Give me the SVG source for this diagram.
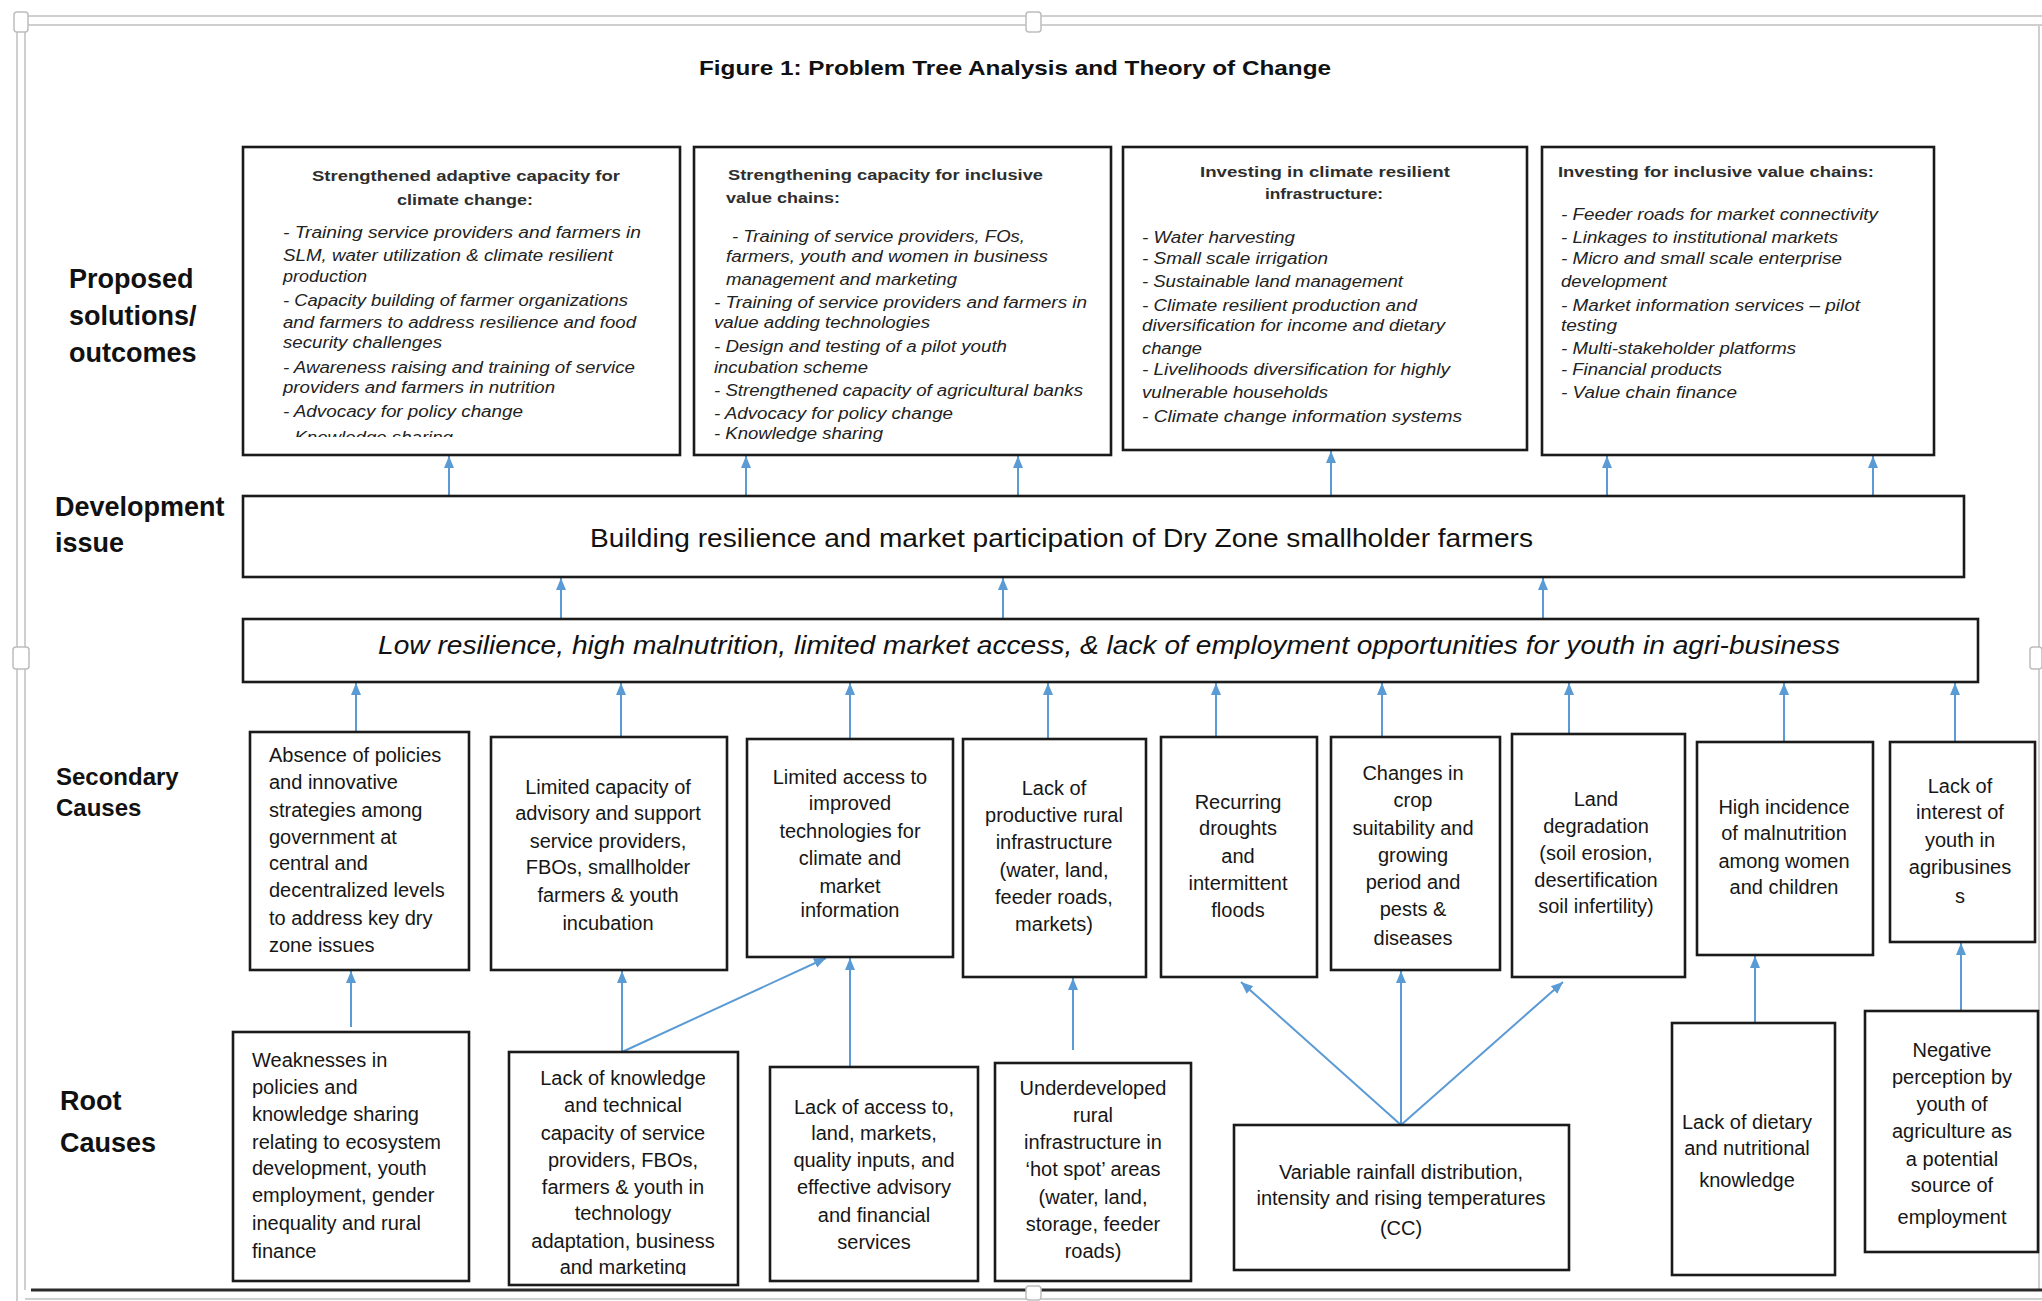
<svg xmlns="http://www.w3.org/2000/svg" width="2042" height="1301" viewBox="0 0 2042 1301">
  <style>
    .bg { fill: #ffffff; }
    .frame { fill: none; stroke: #cfcfcf; stroke-width: 2; }
    .handle { fill: #ffffff; stroke: #bdbdbd; stroke-width: 1.5; }
    .box { fill: #ffffff; stroke: #1a1a1a; stroke-width: 2.6; }
    .lbl { font-family: "Liberation Sans", Arial, sans-serif; font-weight: bold; font-size: 27px; fill: #111111; }
    .title { font-family: "Liberation Sans", Arial, sans-serif; font-weight: bold; font-size: 21px; fill: #111111; }
    .th { font-family: "Liberation Sans", Arial, sans-serif; font-weight: bold; font-size: 15px; fill: #2e2e2e; }
    .ti { font-family: "Liberation Sans", Arial, sans-serif; font-style: italic; font-size: 16px; fill: #222222; }
    .t { font-family: "Liberation Sans", Arial, sans-serif; font-size: 20px; fill: #161616; }
    .c { text-anchor: middle; }
    .big { font-family: "Liberation Sans", Arial, sans-serif; font-size: 25px; fill: #111111; }
    .conn { fill: none; stroke: #5b9bd5; stroke-width: 2; marker-end: url(#arr); }
  </style>
  <defs>
    <marker id="arr" viewBox="0 0 12 12" refX="12" refY="6" markerWidth="12" markerHeight="12" markerUnits="userSpaceOnUse" orient="auto">
      <path d="M0,1 L12,6 L0,11 z" fill="#5b9bd5"/>
    </marker>
    <clipPath id="clipP1"><rect x="244" y="148" width="435" height="289"/></clipPath>
    <clipPath id="clipR2"><rect x="510" y="1053" width="227" height="222"/></clipPath>
  </defs>

  <rect class="bg" x="0" y="0" width="2042" height="1301"/>

  <!-- drawing canvas border -->
  <g id="canvas-frame">
    <line class="frame" x1="24" y1="16" x2="2042" y2="16"/>
    <line class="frame" x1="24" y1="25" x2="2042" y2="25"/>
    <line class="frame" x1="17" y1="24" x2="17" y2="1301"/>
    <line class="frame" x1="25" y1="26" x2="25" y2="1290"/>
    <line class="frame" x1="2039" y1="26" x2="2039" y2="1290"/>
    <line x1="31" y1="1290" x2="2042" y2="1290" stroke="#2b2b2b" stroke-width="3"/>
    <line class="frame" x1="25" y1="1299" x2="2042" y2="1299"/>
    <rect class="handle" x="14" y="12" width="14" height="20" rx="3"/>
    <rect class="handle" x="1026" y="12" width="15" height="20" rx="3"/>
    <rect class="handle" x="13" y="647" width="16" height="22" rx="3"/>
    <rect class="handle" x="2030" y="647" width="12" height="22" rx="3"/>
    <rect class="handle" x="1026" y="1286" width="15" height="14" rx="3"/>
  </g>

  <text id="figure-title" class="title c" x="1015" y="75" textLength="632" lengthAdjust="spacingAndGlyphs">Figure 1: Problem Tree Analysis and Theory of Change</text>

  <!-- row labels -->
  <g id="row-labels">
    <text class="lbl" x="69" y="288">Proposed</text>
    <text class="lbl" x="69" y="325">solutions/</text>
    <text class="lbl" x="69" y="362">outcomes</text>
    <text class="lbl" x="55" y="516">Development</text>
    <text class="lbl" x="55" y="552">issue</text>
    <text class="lbl" x="56" y="785" style="font-size:24px">Secondary</text>
    <text class="lbl" x="56" y="816" style="font-size:24px">Causes</text>
    <text class="lbl" x="60" y="1110">Root</text>
    <text class="lbl" x="60" y="1152">Causes</text>
  </g>

  <!-- connectors -->
  <g id="connectors">
    <line class="conn" x1="449" y1="496" x2="449" y2="456"/>
    <line class="conn" x1="746" y1="496" x2="746" y2="456"/>
    <line class="conn" x1="1018" y1="496" x2="1018" y2="456"/>
    <line class="conn" x1="1331" y1="496" x2="1331" y2="451"/>
    <line class="conn" x1="1607" y1="496" x2="1607" y2="456"/>
    <line class="conn" x1="1873" y1="496" x2="1873" y2="456"/>

    <line class="conn" x1="561" y1="619" x2="561" y2="578"/>
    <line class="conn" x1="1003" y1="619" x2="1003" y2="578"/>
    <line class="conn" x1="1543" y1="619" x2="1543" y2="578"/>

    <line class="conn" x1="356" y1="732" x2="356" y2="683"/>
    <line class="conn" x1="621" y1="737" x2="621" y2="683"/>
    <line class="conn" x1="850" y1="739" x2="850" y2="683"/>
    <line class="conn" x1="1048" y1="742" x2="1048" y2="683"/>
    <line class="conn" x1="1216" y1="737" x2="1216" y2="683"/>
    <line class="conn" x1="1382" y1="737" x2="1382" y2="683"/>
    <line class="conn" x1="1569" y1="734" x2="1569" y2="683"/>
    <line class="conn" x1="1784" y1="742" x2="1784" y2="683"/>
    <line class="conn" x1="1955" y1="746" x2="1955" y2="683"/>

    <line class="conn" x1="351" y1="1027" x2="351" y2="971"/>
    <line class="conn" x1="622" y1="1052" x2="622" y2="971"/>
    <line class="conn" x1="622" y1="1052" x2="826" y2="958"/>
    <line class="conn" x1="850" y1="1067" x2="850" y2="958"/>
    <line class="conn" x1="1073" y1="1050" x2="1073" y2="978"/>
    <line class="conn" x1="1401" y1="1125" x2="1241" y2="982"/>
    <line class="conn" x1="1401" y1="1125" x2="1401" y2="971"/>
    <line class="conn" x1="1401" y1="1125" x2="1563" y2="982"/>
    <line class="conn" x1="1755" y1="1023" x2="1755" y2="956"/>
    <line class="conn" x1="1961" y1="1011" x2="1961" y2="943"/>
  </g>

  <!-- proposed solutions / outcomes -->
  <g id="outcome-adaptive-capacity">
    <rect class="box" x="243" y="147" width="437" height="308"/>
    <text class="th" x="312" y="181" textLength="308" lengthAdjust="spacingAndGlyphs">Strengthened adaptive capacity for</text>
    <text class="th" x="397" y="205" textLength="136" lengthAdjust="spacingAndGlyphs">climate change:</text>
    <g clip-path="url(#clipP1)">
      <text class="ti" x="283" y="238" textLength="358" lengthAdjust="spacingAndGlyphs">- Training service providers and farmers in</text>
      <text class="ti" x="283" y="261" textLength="330" lengthAdjust="spacingAndGlyphs">SLM, water utilization &amp; climate resilient</text>
      <text class="ti" x="283" y="282" textLength="84" lengthAdjust="spacingAndGlyphs">production</text>
      <text class="ti" x="283" y="306" textLength="345" lengthAdjust="spacingAndGlyphs">- Capacity building of farmer organizations</text>
      <text class="ti" x="283" y="328" textLength="353" lengthAdjust="spacingAndGlyphs">and farmers to address resilience and food</text>
      <text class="ti" x="283" y="348" textLength="159" lengthAdjust="spacingAndGlyphs">security challenges</text>
      <text class="ti" x="283" y="373" textLength="352" lengthAdjust="spacingAndGlyphs">- Awareness raising and training of service</text>
      <text class="ti" x="283" y="393" textLength="272" lengthAdjust="spacingAndGlyphs">providers and farmers in nutrition</text>
      <text class="ti" x="283" y="417" textLength="240" lengthAdjust="spacingAndGlyphs">- Advocacy for policy change</text>
      <text class="ti" x="283" y="443" textLength="170" lengthAdjust="spacingAndGlyphs">- Knowledge sharing</text>
    </g>
  </g>

  <g id="outcome-inclusive-value-chains">
    <rect class="box" x="694" y="147" width="417" height="308"/>
    <text class="th" x="728" y="180" textLength="315" lengthAdjust="spacingAndGlyphs">Strengthening capacity for inclusive</text>
    <text class="th" x="726" y="203" textLength="114" lengthAdjust="spacingAndGlyphs">value chains:</text>
    <text class="ti" x="732" y="242" textLength="293" lengthAdjust="spacingAndGlyphs">- Training of service providers, FOs,</text>
    <text class="ti" x="726" y="262" textLength="322" lengthAdjust="spacingAndGlyphs">farmers, youth and women in business</text>
    <text class="ti" x="726" y="285" textLength="231" lengthAdjust="spacingAndGlyphs">management and marketing</text>
    <text class="ti" x="714" y="308" textLength="373" lengthAdjust="spacingAndGlyphs">- Training of service providers and farmers in</text>
    <text class="ti" x="714" y="328" textLength="216" lengthAdjust="spacingAndGlyphs">value adding technologies</text>
    <text class="ti" x="714" y="352" textLength="293" lengthAdjust="spacingAndGlyphs">- Design and testing of a pilot youth</text>
    <text class="ti" x="714" y="373" textLength="154" lengthAdjust="spacingAndGlyphs">incubation scheme</text>
    <text class="ti" x="714" y="396" textLength="369" lengthAdjust="spacingAndGlyphs">- Strengthened capacity of agricultural banks</text>
    <text class="ti" x="714" y="419" textLength="239" lengthAdjust="spacingAndGlyphs">- Advocacy for policy change</text>
    <text class="ti" x="714" y="439" textLength="169" lengthAdjust="spacingAndGlyphs">- Knowledge sharing</text>
  </g>

  <g id="outcome-resilient-infrastructure">
    <rect class="box" x="1123" y="147" width="404" height="303"/>
    <text class="th" x="1200" y="177" textLength="250" lengthAdjust="spacingAndGlyphs">Investing in climate resilient</text>
    <text class="th" x="1265" y="199" textLength="118" lengthAdjust="spacingAndGlyphs">infrastructure:</text>
    <text class="ti" x="1142" y="243" textLength="153" lengthAdjust="spacingAndGlyphs">- Water harvesting</text>
    <text class="ti" x="1142" y="264" textLength="186" lengthAdjust="spacingAndGlyphs">- Small scale irrigation</text>
    <text class="ti" x="1142" y="287" textLength="261" lengthAdjust="spacingAndGlyphs">- Sustainable land management</text>
    <text class="ti" x="1142" y="311" textLength="275" lengthAdjust="spacingAndGlyphs">- Climate resilient production and</text>
    <text class="ti" x="1142" y="331" textLength="303" lengthAdjust="spacingAndGlyphs">diversification for income and dietary</text>
    <text class="ti" x="1142" y="354" textLength="60" lengthAdjust="spacingAndGlyphs">change</text>
    <text class="ti" x="1142" y="375" textLength="308" lengthAdjust="spacingAndGlyphs">- Livelihoods diversification for highly</text>
    <text class="ti" x="1142" y="398" textLength="186" lengthAdjust="spacingAndGlyphs">vulnerable households</text>
    <text class="ti" x="1142" y="422" textLength="320" lengthAdjust="spacingAndGlyphs">- Climate change information systems</text>
  </g>

  <g id="outcome-investing-value-chains">
    <rect class="box" x="1542" y="147" width="392" height="308"/>
    <text class="th" x="1558" y="177" textLength="316" lengthAdjust="spacingAndGlyphs">Investing for inclusive value chains:</text>
    <text class="ti" x="1561" y="220" textLength="317" lengthAdjust="spacingAndGlyphs">- Feeder roads for market connectivity</text>
    <text class="ti" x="1561" y="243" textLength="277" lengthAdjust="spacingAndGlyphs">- Linkages to institutional markets</text>
    <text class="ti" x="1561" y="264" textLength="281" lengthAdjust="spacingAndGlyphs">- Micro and small scale enterprise</text>
    <text class="ti" x="1561" y="287" textLength="106" lengthAdjust="spacingAndGlyphs">development</text>
    <text class="ti" x="1561" y="311" textLength="299" lengthAdjust="spacingAndGlyphs">- Market information services – pilot</text>
    <text class="ti" x="1561" y="331" textLength="56" lengthAdjust="spacingAndGlyphs">testing</text>
    <text class="ti" x="1561" y="354" textLength="235" lengthAdjust="spacingAndGlyphs">- Multi-stakeholder platforms</text>
    <text class="ti" x="1561" y="375" textLength="161" lengthAdjust="spacingAndGlyphs">- Financial products</text>
    <text class="ti" x="1561" y="398" textLength="176" lengthAdjust="spacingAndGlyphs">- Value chain finance</text>
  </g>

  <!-- development issue -->
  <g id="development-issue">
    <rect class="box" x="243" y="496" width="1721" height="81"/>
    <text class="big" x="590" y="547" textLength="943" lengthAdjust="spacingAndGlyphs">Building resilience and market participation of Dry Zone smallholder farmers</text>
  </g>

  <!-- core problem -->
  <g id="core-problem">
    <rect class="box" x="243" y="619" width="1735" height="63"/>
    <text class="big" x="378" y="654" font-style="italic" textLength="1462" lengthAdjust="spacingAndGlyphs">Low resilience, high malnutrition, limited market access, &amp; lack of employment opportunities for youth in agri-business</text>
  </g>

  <!-- secondary causes -->
  <g id="sec-policies">
    <rect class="box" x="250" y="732" width="219" height="238"/>
    <text class="t" x="269" y="762">Absence of policies</text>
    <text class="t" x="269" y="789">and innovative</text>
    <text class="t" x="269" y="817">strategies among</text>
    <text class="t" x="269" y="844">government at</text>
    <text class="t" x="269" y="870">central and</text>
    <text class="t" x="269" y="897">decentralized levels</text>
    <text class="t" x="269" y="925">to address key dry</text>
    <text class="t" x="269" y="952">zone issues</text>
  </g>
  <g id="sec-advisory">
    <rect class="box" x="491" y="737" width="236" height="233"/>
    <text class="t c" x="608" y="794">Limited capacity of</text>
    <text class="t c" x="608" y="820">advisory and support</text>
    <text class="t c" x="608" y="848">service providers,</text>
    <text class="t c" x="608" y="874">FBOs, smallholder</text>
    <text class="t c" x="608" y="902">farmers &amp; youth</text>
    <text class="t c" x="608" y="930">incubation</text>
  </g>
  <g id="sec-technologies">
    <rect class="box" x="747" y="739" width="206" height="218"/>
    <text class="t c" x="850" y="784">Limited access to</text>
    <text class="t c" x="850" y="810">improved</text>
    <text class="t c" x="850" y="838">technologies for</text>
    <text class="t c" x="850" y="865">climate and</text>
    <text class="t c" x="850" y="893">market</text>
    <text class="t c" x="850" y="917">information</text>
  </g>
  <g id="sec-infrastructure">
    <rect class="box" x="963" y="739" width="183" height="238"/>
    <text class="t c" x="1054" y="795">Lack of</text>
    <text class="t c" x="1054" y="822">productive rural</text>
    <text class="t c" x="1054" y="849">infrastructure</text>
    <text class="t c" x="1054" y="877">(water, land,</text>
    <text class="t c" x="1054" y="904">feeder roads,</text>
    <text class="t c" x="1054" y="931">markets)</text>
  </g>
  <g id="sec-droughts">
    <rect class="box" x="1161" y="737" width="156" height="240"/>
    <text class="t c" x="1238" y="809">Recurring</text>
    <text class="t c" x="1238" y="835">droughts</text>
    <text class="t c" x="1238" y="863">and</text>
    <text class="t c" x="1238" y="890">intermittent</text>
    <text class="t c" x="1238" y="917">floods</text>
  </g>
  <g id="sec-crop-suitability">
    <rect class="box" x="1331" y="737" width="169" height="233"/>
    <text class="t c" x="1413" y="780">Changes in</text>
    <text class="t c" x="1413" y="807">crop</text>
    <text class="t c" x="1413" y="835">suitability and</text>
    <text class="t c" x="1413" y="862">growing</text>
    <text class="t c" x="1413" y="889">period and</text>
    <text class="t c" x="1413" y="916">pests &amp;</text>
    <text class="t c" x="1413" y="945">diseases</text>
  </g>
  <g id="sec-land-degradation">
    <rect class="box" x="1512" y="734" width="173" height="243"/>
    <text class="t c" x="1596" y="806">Land</text>
    <text class="t c" x="1596" y="833">degradation</text>
    <text class="t c" x="1596" y="860">(soil erosion,</text>
    <text class="t c" x="1596" y="887">desertification</text>
    <text class="t c" x="1596" y="913">soil infertility)</text>
  </g>
  <g id="sec-malnutrition">
    <rect class="box" x="1697" y="742" width="176" height="213"/>
    <text class="t c" x="1784" y="814">High incidence</text>
    <text class="t c" x="1784" y="840">of malnutrition</text>
    <text class="t c" x="1784" y="868">among women</text>
    <text class="t c" x="1784" y="894">and children</text>
  </g>
  <g id="sec-youth-interest">
    <rect class="box" x="1890" y="742" width="145" height="200"/>
    <text class="t c" x="1960" y="793">Lack of</text>
    <text class="t c" x="1960" y="819">interest of</text>
    <text class="t c" x="1960" y="847">youth in</text>
    <text class="t c" x="1960" y="874">agribusines</text>
    <text class="t c" x="1960" y="903">s</text>
  </g>

  <!-- root causes -->
  <g id="root-policy-weakness">
    <rect class="box" x="233" y="1032" width="236" height="249"/>
    <text class="t" x="252" y="1067">Weaknesses in</text>
    <text class="t" x="252" y="1094">policies and</text>
    <text class="t" x="252" y="1121">knowledge sharing</text>
    <text class="t" x="252" y="1149">relating to ecosystem</text>
    <text class="t" x="252" y="1175">development, youth</text>
    <text class="t" x="252" y="1202">employment, gender</text>
    <text class="t" x="252" y="1230">inequality and rural</text>
    <text class="t" x="252" y="1258">finance</text>
  </g>
  <g id="root-knowledge">
    <rect class="box" x="509" y="1052" width="229" height="233"/>
    <g clip-path="url(#clipR2)">
      <text class="t c" x="623" y="1085">Lack of knowledge</text>
      <text class="t c" x="623" y="1112">and technical</text>
      <text class="t c" x="623" y="1140">capacity of service</text>
      <text class="t c" x="623" y="1167">providers, FBOs,</text>
      <text class="t c" x="623" y="1194">farmers &amp; youth in</text>
      <text class="t c" x="623" y="1220">technology</text>
      <text class="t c" x="623" y="1248">adaptation, business</text>
      <text class="t c" x="623" y="1274">and marketing</text>
    </g>
  </g>
  <g id="root-access">
    <rect class="box" x="770" y="1067" width="208" height="214"/>
    <text class="t c" x="874" y="1114">Lack of access to,</text>
    <text class="t c" x="874" y="1140">land, markets,</text>
    <text class="t c" x="874" y="1167">quality inputs, and</text>
    <text class="t c" x="874" y="1194">effective advisory</text>
    <text class="t c" x="874" y="1222">and financial</text>
    <text class="t c" x="874" y="1249">services</text>
  </g>
  <g id="root-underdeveloped">
    <rect class="box" x="995" y="1063" width="196" height="218"/>
    <text class="t c" x="1093" y="1095">Underdeveloped</text>
    <text class="t c" x="1093" y="1122">rural</text>
    <text class="t c" x="1093" y="1149">infrastructure in</text>
    <text class="t c" x="1093" y="1176">‘hot spot’ areas</text>
    <text class="t c" x="1093" y="1204">(water, land,</text>
    <text class="t c" x="1093" y="1231">storage, feeder</text>
    <text class="t c" x="1093" y="1258">roads)</text>
  </g>
  <g id="root-rainfall">
    <rect class="box" x="1234" y="1125" width="335" height="145"/>
    <text class="t c" x="1401" y="1179">Variable rainfall distribution,</text>
    <text class="t c" x="1401" y="1205">intensity and rising temperatures</text>
    <text class="t c" x="1401" y="1235">(CC)</text>
  </g>
  <g id="root-dietary">
    <rect class="box" x="1672" y="1023" width="163" height="252"/>
    <text class="t c" x="1747" y="1129">Lack of dietary</text>
    <text class="t c" x="1747" y="1155">and nutritional</text>
    <text class="t c" x="1747" y="1187">knowledge</text>
  </g>
  <g id="root-perception">
    <rect class="box" x="1865" y="1011" width="173" height="241"/>
    <text class="t c" x="1952" y="1057">Negative</text>
    <text class="t c" x="1952" y="1084">perception by</text>
    <text class="t c" x="1952" y="1111">youth of</text>
    <text class="t c" x="1952" y="1138">agriculture as</text>
    <text class="t c" x="1952" y="1166">a potential</text>
    <text class="t c" x="1952" y="1192">source of</text>
    <text class="t c" x="1952" y="1224">employment</text>
  </g>
</svg>
